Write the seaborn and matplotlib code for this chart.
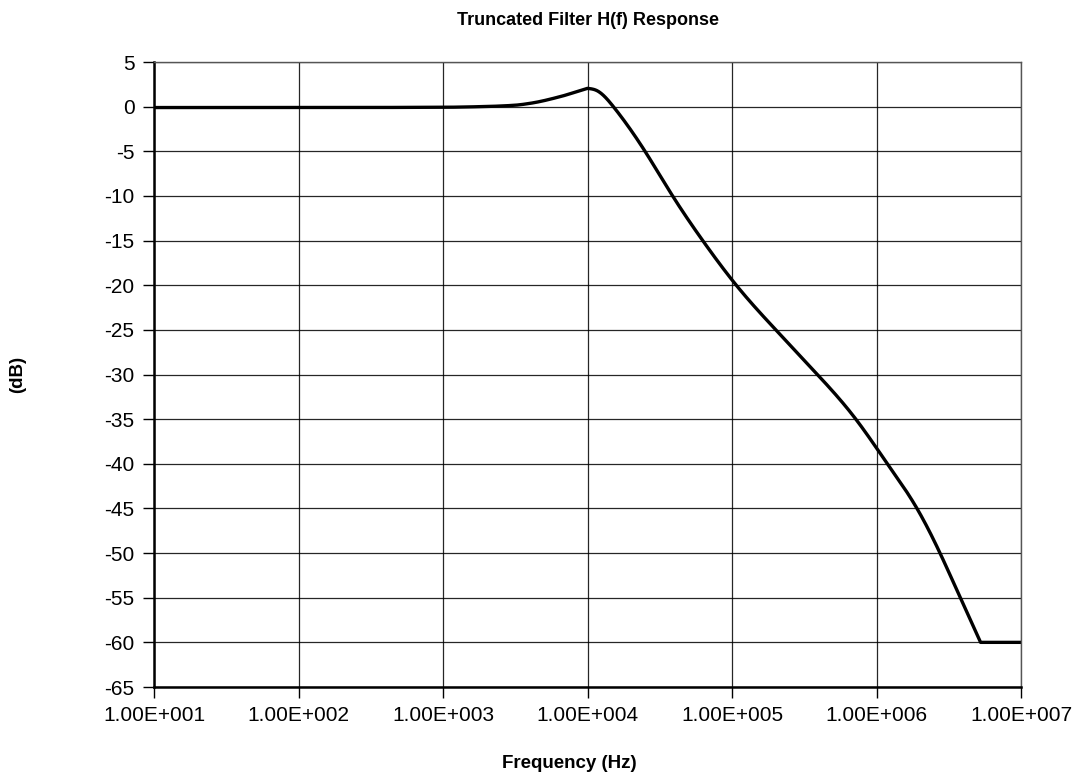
import numpy as np
import pandas as pd
import matplotlib
matplotlib.use("Agg")
import matplotlib.pyplot as plt
import seaborn as sns

# values (mostly where it crosses the gridlines)
freq_hz = [10, 100, 1000, 1820, 3090, 4000, 6460, 8900, 10000, 11600,
           15100, 25000, 38800, 62700, 107000, 201000, 390000, 719000,
           1190000, 1905000, 2750000, 3800000, 5250000, 10000000]
gain_db = [-0.1, -0.1, -0.07, 0.0, 0.15, 0.37, 1.12, 1.8, 2.05, 1.8,
           0.0, -5.0, -10.0, -15.0, -20.0, -25.0, -30.0, -35.0,
           -40.0, -45.0, -50.0, -55.0, -60.0, -60.0]
peak_hz = 10000

x_ticks = [1e1, 1e2, 1e3, 1e4, 1e5, 1e6, 1e7]
x_tick_labels = ["1.00E+001", "1.00E+002", "1.00E+003", "1.00E+004",
                 "1.00E+005", "1.00E+006", "1.00E+007"]
y_ticks = list(range(5, -70, -5))

df = pd.DataFrame({"freq": freq_hz, "gain": gain_db})

sns.set_style("white")
plt.rcParams["font.family"] = ["Liberation Sans", "DejaVu Sans"]
plt.rcParams["text.color"] = "black"
plt.rcParams["axes.labelcolor"] = "black"
plt.rcParams["xtick.color"] = "black"
plt.rcParams["ytick.color"] = "black"

fig = plt.figure(figsize=(10.87, 7.79), dpi=100)
ax = fig.add_axes([0.1417, 0.1181, 0.9393 - 0.1417, 0.9204 - 0.1181])


def pchip(x, y, xn):
    # shape-preserving cubic through the read points
    h = np.diff(x)
    d = np.diff(y) / h
    m = np.zeros_like(y)
    for i in range(1, len(y) - 1):
        if d[i - 1] * d[i] > 0:
            w1 = 2 * h[i] + h[i - 1]
            w2 = h[i] + 2 * h[i - 1]
            m[i] = (w1 + w2) / (w1 / d[i - 1] + w2 / d[i])
    m[0] = d[0]
    m[-1] = d[-1]
    idx = np.clip(np.searchsorted(x, xn) - 1, 0, len(x) - 2)
    t = (xn - x[idx]) / h[idx]
    h00 = 2 * t**3 - 3 * t**2 + 1
    h10 = t**3 - 2 * t**2 + t
    h01 = -2 * t**3 + 3 * t**2
    h11 = t**3 - t**2
    return h00 * y[idx] + h10 * h[idx] * m[idx] + h01 * y[idx + 1] + h11 * h[idx] * m[idx + 1]


def natural_spline(x, y, xn):
    n = len(x)
    h = np.diff(x)
    A = np.zeros((n, n))
    r = np.zeros(n)
    A[0, 0] = A[-1, -1] = 1
    for i in range(1, n - 1):
        A[i, i - 1] = h[i - 1]
        A[i, i] = 2 * (h[i - 1] + h[i])
        A[i, i + 1] = h[i]
        r[i] = 6 * ((y[i + 1] - y[i]) / h[i] - (y[i] - y[i - 1]) / h[i - 1])
    M = np.linalg.solve(A, r)
    idx = np.clip(np.searchsorted(x, xn) - 1, 0, n - 2)
    hi = h[idx]
    a = x[idx + 1] - xn
    b = xn - x[idx]
    return (M[idx] * a**3 + M[idx + 1] * b**3) / (6 * hi) \
        + (y[idx] / hi - M[idx] * hi / 6) * a + (y[idx + 1] / hi - M[idx + 1] * hi / 6) * b


lf = np.log10(df["freq"].values)
g = df["gain"].values
k = int(np.argmin(np.abs(df["freq"].values - peak_hz)))
left_x = np.linspace(lf[0], lf[k], 500)
left_y = pchip(lf[:k + 1], g[:k + 1], left_x)
right_x = np.linspace(lf[k], lf[-2], 700)
right_y = natural_spline(lf[k:-1], g[k:-1], right_x)
smooth = pd.DataFrame({"freq": np.concatenate([10 ** left_x, 10 ** right_x, [freq_hz[-1]]]),
                       "gain": np.concatenate([left_y, right_y, [gain_db[-1]]])})

sns.lineplot(data=smooth, x="freq", y="gain", ax=ax, color="black",
             linewidth=2.4, sort=False, estimator=None)

ax.set_xscale("log")
ax.set_xlim(1e1, 1e7)
ax.set_ylim(-65, 5)
ax.set_xticks(x_ticks)
ax.set_xticklabels(x_tick_labels)
ax.minorticks_off()
ax.set_yticks(y_ticks)
ax.set_yticklabels([str(v) for v in y_ticks])
ax.tick_params(axis="both", labelsize=15, length=8, width=1, color="black",
               labelcolor="black", direction="out", pad=6, left=True, bottom=True)

ax.grid(True, color="black", linewidth=0.9, alpha=0.85)
ax.set_axisbelow(True)
for side in ["left", "bottom"]:
    ax.spines[side].set_color("black")
    ax.spines[side].set_linewidth(1.8)
for side in ["top", "right"]:
    ax.spines[side].set_color("#555555")
    ax.spines[side].set_linewidth(1.0)

ax.set_xlabel("Frequency (Hz)", fontsize=13.5, fontweight="bold")
ax.xaxis.set_label_coords(0.479, -0.109)
ax.set_ylabel("(dB)", fontsize=13.5, fontweight="bold")
ax.yaxis.set_label_coords(-0.148, 0.5)
ax.set_title("Truncated Filter H(f) Response", fontsize=13, fontweight="bold", pad=27)

fig.savefig("out.png", dpi=100)
plt.close(fig)
